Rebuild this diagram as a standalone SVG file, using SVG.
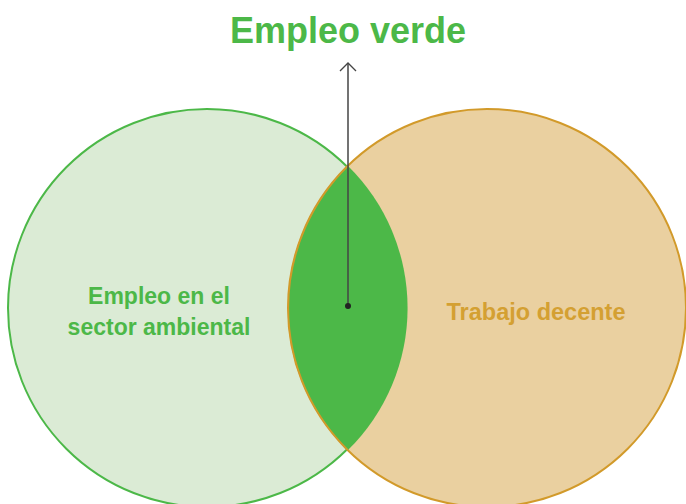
<svg xmlns="http://www.w3.org/2000/svg" width="686" height="504" viewBox="0 0 686 504">
<style>
text{font-family:"Liberation Sans",Arial,sans-serif;font-weight:bold;text-anchor:middle}
.g{fill:#4cb848}
.o{fill:#d4a032}
</style>
<defs>
<marker id="arr" markerWidth="20" markerHeight="20" refX="10" refY="10" orient="auto" markerUnits="userSpaceOnUse" viewBox="0 0 20 20">
<path d="M2 2 L10 10 L2 18" fill="none" stroke="#444" stroke-width="1.3"/>
</marker>
</defs>
<rect width="686" height="504" fill="#fff"/>
<g id="sector-ambiental">
<circle cx="207" cy="308" r="199" fill="#dbebd5" stroke="#4cb848" stroke-width="2"/>
<text class="g" x="159" y="304" font-size="23">Empleo en el</text>
<text class="g" x="159" y="335" font-size="23">sector ambiental</text>
</g>
<g id="trabajo-decente">
<circle cx="487" cy="308" r="199" fill="#ead0a0" stroke="#d29a2a" stroke-width="2"/>
<text class="o" x="536" y="320" font-size="23.5">Trabajo decente</text>
</g>
<g id="empleo-verde">
<path d="M348 166 A199 199 0 0 1 348 450 A199 199 0 0 1 348 166 Z" fill="#4cb848"/>
<path d="M348 166 A199 199 0 0 0 348 450" fill="none" stroke="#d29a2a" stroke-width="1.5"/>
<text class="g" x="348" y="43" font-size="36">Empleo verde</text>
</g>
<g id="connectors">
<line x1="348" y1="306" x2="348" y2="63" stroke="#444" stroke-width="1.5" marker-end="url(#arr)"/>
<circle cx="348" cy="306" r="3" fill="#222"/>
</g>
</svg>
